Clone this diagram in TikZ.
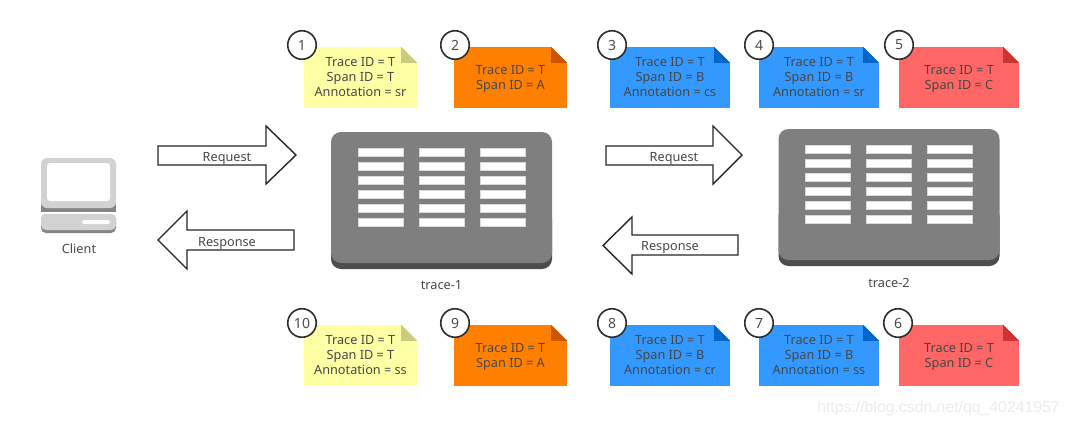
\documentclass[tikz,border=0pt]{standalone}
\usepackage{fontspec}
\setmainfont{Noto Sans}
\newfontfamily\markfont{Liberation Sans}
\definecolor{noteyellow}{HTML}{FFFFA6}
\definecolor{foldyellow}{HTML}{CCCC80}
\definecolor{noteorange}{HTML}{FF8000}
\definecolor{foldorange}{HTML}{CC5500}
\definecolor{noteblue}{HTML}{3399FF}
\definecolor{foldblue}{HTML}{0066CC}
\definecolor{notered}{HTML}{FF6666}
\definecolor{foldred}{HTML}{CC3333}
\definecolor{rackgray}{HTML}{7F7F7F}
\definecolor{rackdark}{HTML}{4D4D4D}
\definecolor{pcgray}{HTML}{D2D2D2}
\definecolor{pcdark}{HTML}{858585}
\newcommand{\notetext}[1]{\rule{0pt}{13pt}#1\rule[-4.5pt]{0pt}{1pt}}
\tikzset{
  label text/.style={font=\fontsize{12.7}{15}\selectfont, text=black!72, inner sep=0pt, align=center},
  notebox/.style={label text, rectangle, minimum width=#1, minimum height=61},
  stepnum/.style={circle, draw=black!82, line width=1.6, fill=white, minimum size=28.5, label text, font=\fontsize{14}{15}\selectfont, text=black!70},
  flowarrow/.style={draw=black!85, line width=1.4, fill=white, line join=miter},
  bar/.style={fill=white, draw=black!15, line width=.4}
}

\begin{document}
\begin{tikzpicture}[x=1pt,y=-1pt]
        \useasboundingbox (0,0) rectangle (1069,426);

        % client
        \fill[pcdark] (41,170) rectangle (116,212);
        \node (monitor) [fill=pcgray, rounded corners=6, minimum width=75, minimum height=50, inner sep=0pt] at (78.5,183) {};
        \node (screen) [fill=white, rounded corners=3, minimum width=63, minimum height=38, inner sep=0pt] at (78.5,182) {};
        \fill[pcdark, rounded corners=5] (41,214) rectangle (116,233);
        \node (pcbase) [fill=pcgray, rounded corners=5, minimum width=75, minimum height=16, inner sep=0pt] at (78.5,222) {};
        \node (pcslot) [fill=white, rounded corners=2, minimum width=28, minimum height=4, inner sep=0pt] at (96,222) {};
        \node (client) [label text] at (79,249) {Client};

        % the two racks
        \foreach \name/\dx/\dy/\tag in {trace1/0/0/trace-1, trace2/447.5/-3/trace-2} {
          \begin{scope}[shift={(\dx,\dy)}]
            \node (\name base) [fill=rackdark, rounded corners=10, minimum width=221, minimum height=60, inner sep=0pt] at (441.5,239) {};
            \node (\name) [fill=rackgray, rounded corners=10, minimum width=221, minimum height=131, inner sep=0pt] at (441.5,197.5) {};
            \foreach \col in {358,419,480}
              \foreach \row in {148,162,176,190,204,218}
                \draw[bar] (\col,\row) rectangle ++(45,8.5);
            \node (\name label) [label text] at (441.5,285.5) {\tag};
          \end{scope}
        }

        % arrows
        \draw[flowarrow] (158,146) -- (266,146) -- (266,126) -- (296,155) -- (266,184) -- (266,165) -- (158,165) -- cycle;
        \node (req1) [label text] at (227,158) {Request};
        \draw[flowarrow] (294,230) -- (187,230) -- (187,211) -- (158,240) -- (187,269) -- (187,250) -- (294,250) -- cycle;
        \node (res1) [label text] at (227,243) {Response};
        \draw[flowarrow] (606,146) -- (713,146) -- (713,126) -- (742,155) -- (713,184) -- (713,165) -- (606,165) -- cycle;
        \node (req2) [label text] at (674,158) {Request};
        \draw[flowarrow] (738,235) -- (632,235) -- (632,217) -- (603,245.5) -- (632,274) -- (632,255) -- (738,255) -- cycle;
        \node (res2) [label text] at (670,247) {Response};

        % top notes
        \node (n1) [notebox=113, fill=noteyellow] at (360.5,77.5) {\notetext{Trace ID = T\\Span ID = T\\Annotation = sr}};
        \node (n2) [notebox=113, fill=noteorange] at (510.5,77.5) {\notetext{Trace ID = T\\Span ID = A}};
        \node (n3) [notebox=120, fill=noteblue] at (670,77.5) {\notetext{Trace ID = T\\Span ID = B\\Annotation = cs}};
        \node (n4) [notebox=120, fill=noteblue] at (819,77.5) {\notetext{Trace ID = T\\Span ID = B\\Annotation = sr}};
        \node (n5) [notebox=120, fill=notered] at (959,77.5) {\notetext{Trace ID = T\\Span ID = C}};

        % bottom notes
        \node (n10) [notebox=113, fill=noteyellow] at (360.5,355.5) {\notetext{Trace ID = T\\Span ID = T\\Annotation = ss}};
        \node (n9) [notebox=113, fill=noteorange] at (510.5,355.5) {\notetext{Trace ID = T\\Span ID = A}};
        \node (n8) [notebox=120, fill=noteblue] at (670,355.5) {\notetext{Trace ID = T\\Span ID = B\\Annotation = cr}};
        \node (n7) [notebox=120, fill=noteblue] at (819,355.5) {\notetext{Trace ID = T\\Span ID = B\\Annotation = ss}};
        \node (n6) [notebox=120, fill=notered] at (959,355.5) {\notetext{Trace ID = T\\Span ID = C}};

        % folded corners
        \foreach \n/\c in {n1/foldyellow, n2/foldorange, n3/foldblue, n4/foldblue, n5/foldred, n10/foldyellow, n9/foldorange, n8/foldblue, n7/foldblue, n6/foldred} {
          \fill[white] (\n.north east) -- ++(-16,0) -- ++(16,16) -- cycle;
          \fill[\c] (\n.north east) ++(-16,0) -- ++(16,16) -- ++(-16,0) -- cycle;
        }

        % step numbers
        \node (s1) [stepnum] at (302,45) {1};
        \node (s2) [stepnum] at (455,45) {2};
        \node (s3) [stepnum] at (612,45) {3};
        \node (s4) [stepnum] at (759,45) {4};
        \node (s5) [stepnum] at (899,45) {5};
        \node (s10) [stepnum] at (302,323) {10};
        \node (s9) [stepnum] at (455,323) {9};
        \node (s8) [stepnum] at (612,323) {8};
        \node (s7) [stepnum] at (759,323) {7};
        \node (s6) [stepnum] at (898,323) {6};

        \node (mark) [font=\markfont\fontsize{15.8}{18}\selectfont, text=black!8, inner sep=0pt] at (938.5,408) {https://blog.csdn.net/qq\_40241957};
      \end{tikzpicture}
\end{document}
